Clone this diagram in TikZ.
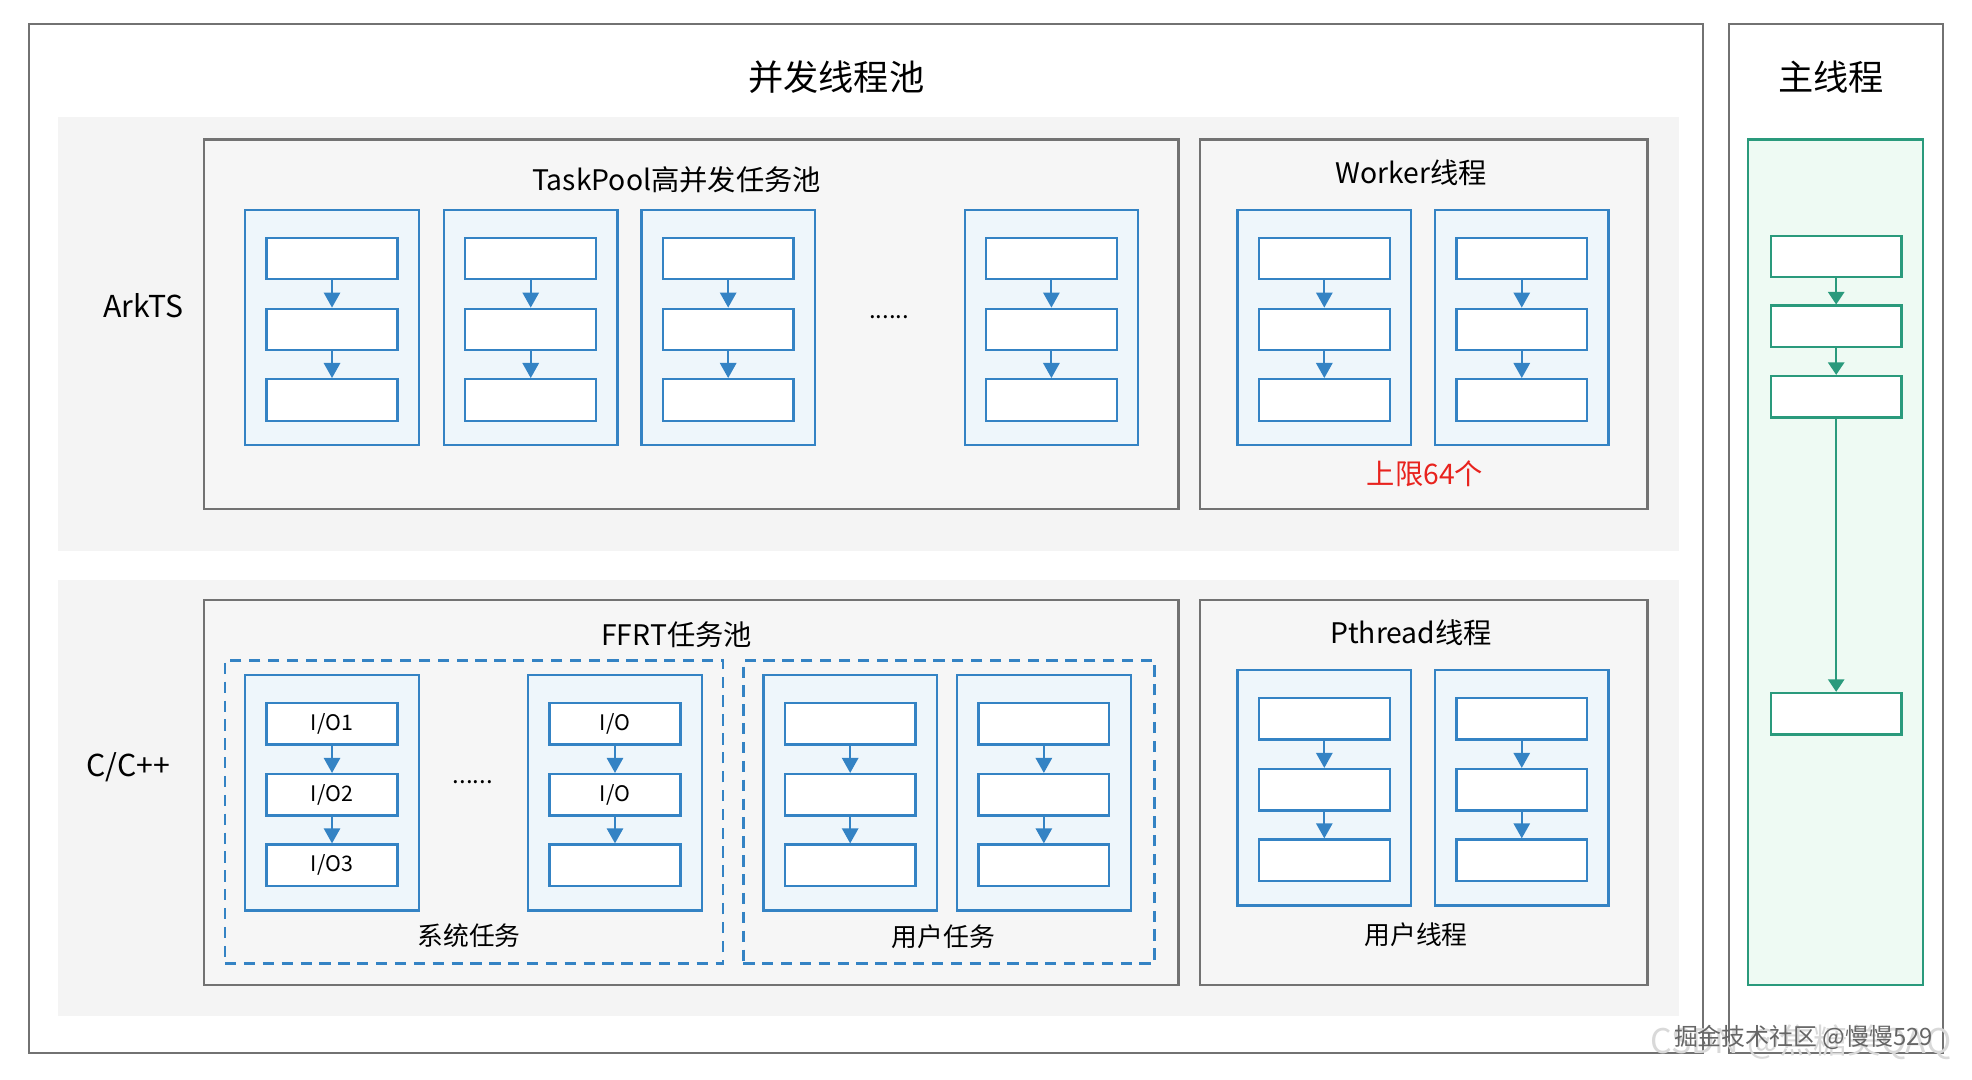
\documentclass[tikz,border=0pt]{standalone}
\usepackage{fontspec}
\setmainfont{Noto Sans CJK SC}
\usetikzlibrary{arrows.meta}
\definecolor{gborder}{HTML}{727272}
\definecolor{bandfill}{HTML}{F4F4F4}
\definecolor{boxfill}{HTML}{F6F6F6}
\definecolor{bblue}{HTML}{3483C4}
\definecolor{colfill}{HTML}{EEF6FB}
\definecolor{tgreen}{HTML}{2A9A7C}
\definecolor{gfill}{HTML}{EEFAF3}
\definecolor{wred}{HTML}{E8231E}
\tikzset{
  fs/.style={font=\fontsize{#1pt}{#1pt}\selectfont},
  graybox/.style={draw=gborder, line width=1.8pt, inner sep=0pt},
  band/.style={fill=bandfill, draw=none, inner sep=0pt},
  colbox/.style={draw=bblue, fill=colfill, line width=1.8pt, minimum width=138pt, minimum height=187pt, inner sep=0pt},
  ibox/.style={draw=bblue, fill=white, line width=1.8pt, minimum width=104pt, minimum height=33pt, inner sep=0pt, fs=17},
  gbox/.style={draw=tgreen, fill=white, line width=1.8pt, minimum width=104pt, minimum height=33pt, inner sep=0pt},
  barrow/.style={draw=bblue, line width=1.6pt, -{Triangle[width=13pt,length=12pt]}, fill=bblue},
  garrow/.style={draw=tgreen, line width=1.6pt, -{Triangle[width=13pt,length=10pt]}, fill=tgreen},
  dashbox/.style={draw=bblue, line width=2pt, dash pattern=on 9pt off 6pt, inner sep=0pt},
}
\newcommand\mkcol[6]{%
  \node[colbox] (#1) at (#2, {#3+93.5}) {};
  \node[ibox] (#1a) at (#2, {#3+38.5}) {#4};
  \node[ibox] (#1b) at (#2, {#3+95}) {#5};
  \node[ibox] (#1c) at (#2, {#3+151}) {#6};
  \draw[barrow] (#1a) -- (#1b);
  \draw[barrow] (#1b) -- (#1c);
}
\begin{document}
\begin{tikzpicture}[x=1pt, y=-1pt]
\path[use as bounding box, fill=white] (0,0) rectangle (1568,858);

% outer containers
\node[graybox, fill=white, minimum width=1331pt, minimum height=818pt] (pool) at (688.5,428) {};
\node[graybox, fill=white, minimum width=170pt, minimum height=818pt] (main) at (1460,428) {};
\node[fs=28] (pooltitle) at (665,61) {并发线程池};
\node[fs=28] (maintitle) at (1456,61) {主线程};

% bands
\node[band, minimum width=1289pt, minimum height=345pt] (arkband) at (690.5,265.5) {};
\node[band, minimum width=1289pt, minimum height=347pt] (cband) at (690.5,634.5) {};
\node[fs=24] (arkts) at (114,243) {ArkTS};
\node[fs=24] (ccpp) at (102,610) {C/C++};

% ArkTS containers
\node[graybox, fill=boxfill, minimum width=775pt, minimum height=294pt] (taskpool) at (549.5,258) {};
\node[graybox, fill=boxfill, minimum width=356pt, minimum height=294pt] (worker) at (1132,258) {};
\node[fs=22.5] (tptitle) at (538,143) {TaskPool高并发任务池};
\node[fs=22.5] (wktitle) at (1122,137) {Worker线程};

\mkcol{tpa}{264}{167}{}{}{}
\mkcol{tpb}{422}{167}{}{}{}
\mkcol{tpc}{579}{167}{}{}{}
\mkcol{tpd}{836}{167}{}{}{}
\node[fs=19] (tpdots) at (707,252) {......};
\mkcol{wka}{1053}{167}{}{}{}
\mkcol{wkb}{1210}{167}{}{}{}
\node[fs=22.5, text=wred] (limit) at (1133,377) {上限64个};

% C/C++ containers
\node[graybox, fill=boxfill, minimum width=775pt, minimum height=306pt] (ffrt) at (549.5,630) {};
\node[graybox, fill=boxfill, minimum width=356pt, minimum height=306pt] (pthread) at (1132,630) {};
\node[fs=22.5] (fftitle) at (538,505) {FFRT任务池};
\node[fs=22.5] (pttitle) at (1122,503) {Pthread线程};

\node[dashbox, minimum width=396pt, minimum height=241pt] (sysgrp) at (377,645.5) {};
\node[dashbox, minimum width=327pt, minimum height=241pt] (usrgrp) at (754.5,645.5) {};

\mkcol{sya}{264}{537}{I/O1}{I/O2}{I/O3}
\mkcol{syb}{489}{537}{I/O}{I/O}{}
\node[fs=19] (sydots) at (376,622) {......};
\node[fs=20.5] (syslabel) at (373,744) {系统任务};
\mkcol{usa}{676}{537}{}{}{}
\mkcol{usb}{830}{537}{}{}{}
\node[fs=20.5] (usrlabel) at (750,745) {用户任务};

\mkcol{pta}{1053}{533}{}{}{}
\mkcol{ptb}{1210}{533}{}{}{}
\node[fs=20.5] (ptlabel) at (1126,743) {用户线程};

% main thread
\node[draw=tgreen, fill=gfill, line width=1.8pt, minimum width=139pt, minimum height=672pt, inner sep=0pt] (gcol) at (1459.5,447) {};
\node[gbox] (ma) at (1460,204) {};
\node[gbox] (mb) at (1460,259.5) {};
\node[gbox] (mc) at (1460,315.5) {};
\node[gbox] (md) at (1460,567.5) {};
\draw[garrow] (ma) -- (mb);
\draw[garrow] (mb) -- (mc);
\draw[garrow] (mc) -- (md);

% watermarks
\node[fs=27, text=black!15] (wm1) at (1432,829) {CSDN @焦糖美QAQ};
\node[fs=19, text=black!60] (wm2) at (1434,825) {掘金技术社区 @慢慢529};
\end{tikzpicture}
\end{document}
